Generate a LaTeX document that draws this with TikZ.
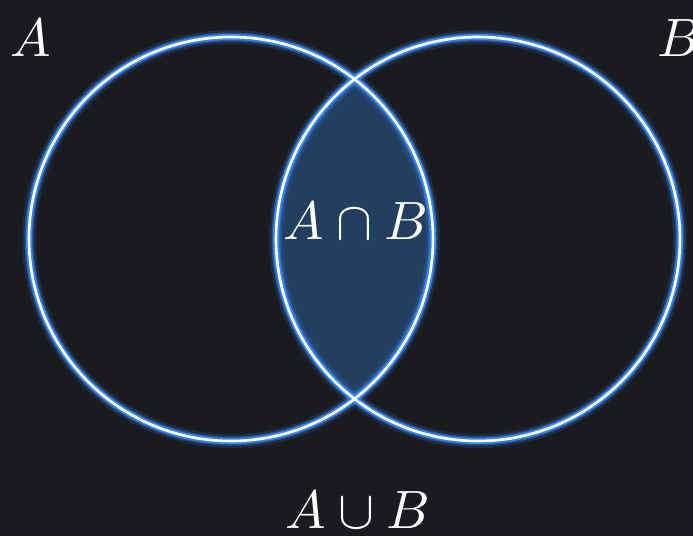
\documentclass[tikz,border=0pt]{standalone}
\usepackage{amsmath}
\definecolor{bg}{HTML}{1A1B1F}
\definecolor{fillblue}{HTML}{233F60}
\definecolor{glow}{HTML}{3A8CFF}
\tikzset{
  glow1/.style={draw=glow, line width=14pt, opacity=0.15},
  glow2/.style={draw=glow, line width=9pt, opacity=0.4},
  glow3/.style={draw=glow, line width=6pt, opacity=0.9},
  core/.style={draw=white, line width=2.6pt},
  lbl/.style={text=white, inner sep=0pt, scale=5.4}
}
\begin{document}
\begin{tikzpicture}[x=1pt,y=1pt]
  \fill[bg] (0,0) rectangle (693,-536);
  \useasboundingbox (0,0) rectangle (693,-536);
  \coordinate (ca) at (231,-239);
  \coordinate (cb) at (478,-239);
  \begin{scope}
    \clip (ca) circle (202);
    \fill[fillblue] (cb) circle (202);
  \end{scope}
  \foreach \s in {glow1,glow2,glow3,core}{
    \path[\s] (ca) circle (202);
    \path[\s] (cb) circle (202);
  }
  \node[lbl] (la) at (31,-38) {$A$};
  \node[lbl] (lb) at (679,-38) {$B$};
  \node[lbl] (lab) at (356,-221) {$A\cap B$};
  \node[lbl] (lu) at (358,-510) {$A\cup B$};
\end{tikzpicture}
\end{document}
